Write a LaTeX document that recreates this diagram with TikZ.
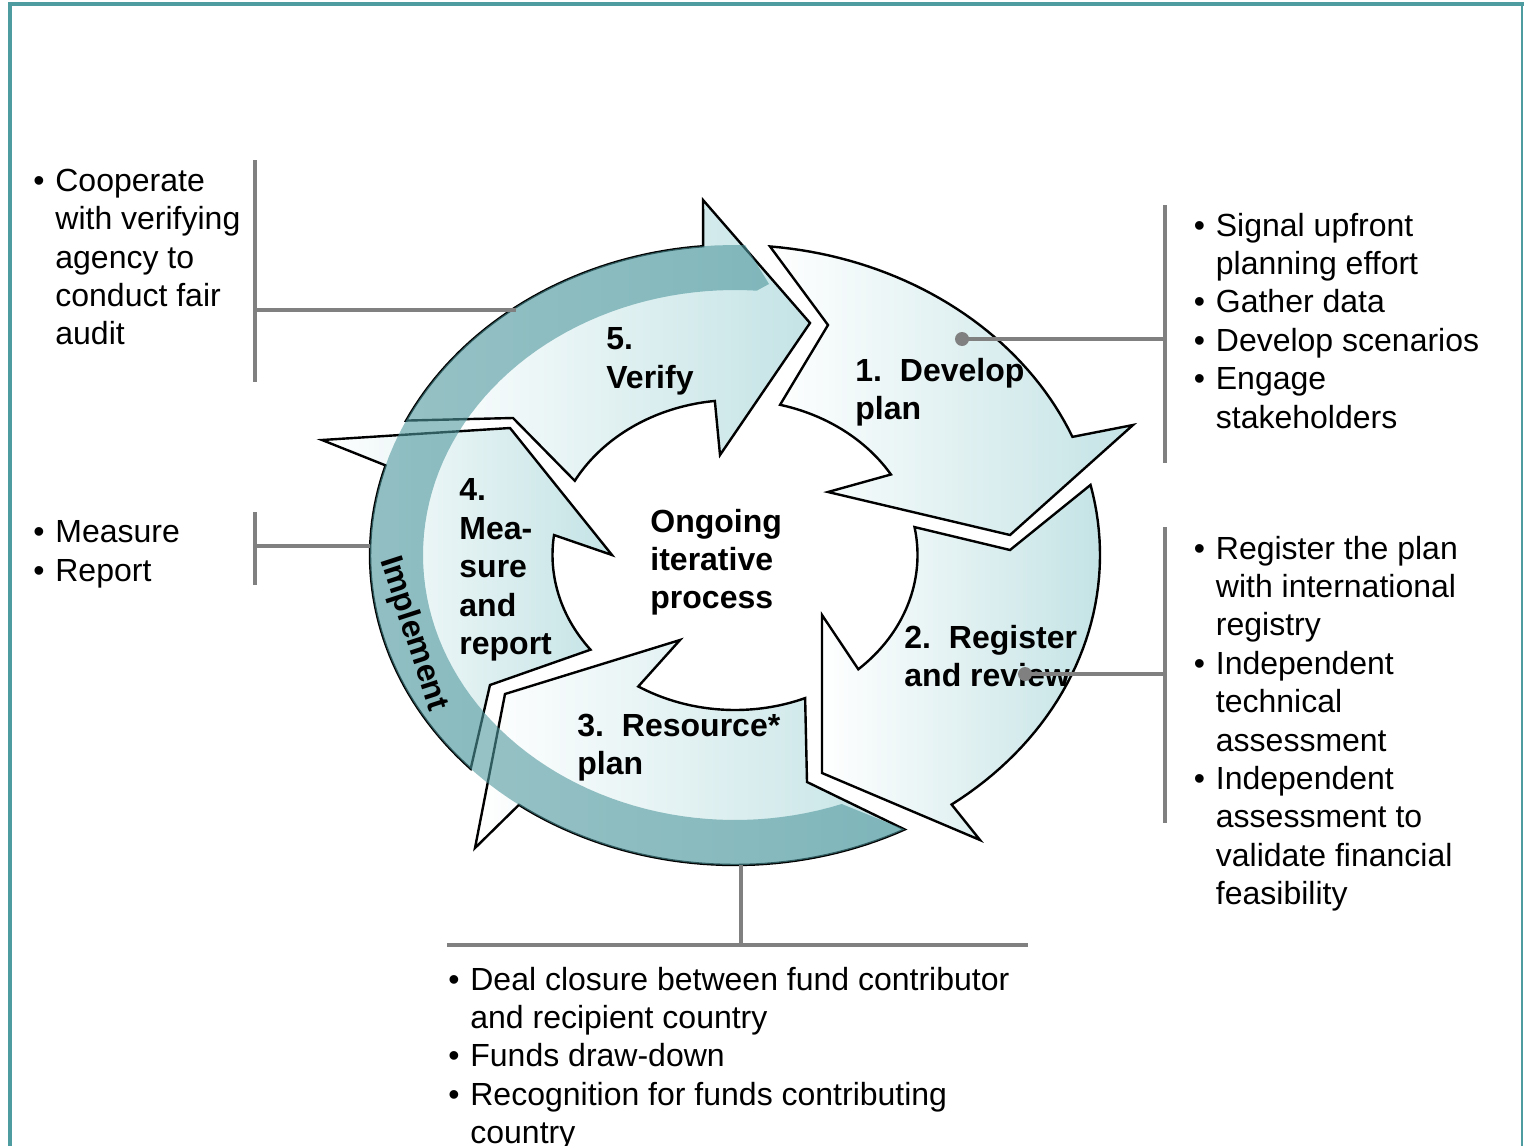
\documentclass[tikz,border=0pt]{standalone}
\usepackage{fontspec}
\setmainfont{Liberation Sans}
\definecolor{frameteal}{RGB}{78,155,160}
\definecolor{linegrey}{RGB}{128,128,128}
\definecolor{arrowteal}{RGB}{196,227,229}
\definecolor{bandteal}{RGB}{80,152,158}
\tikzset{
  cyclearrow/.style={draw=black, line width=1.2pt, line join=miter, left color=white, right color=arrowteal},
  bandshape/.style={fill=bandteal, fill opacity=0.6},
  callout/.style={draw=linegrey, line width=2pt},
  calloutdot/.style={fill=linegrey},
  bullettext/.style={anchor=north west, inner sep=0pt, align=left, font=\fontsize{16}{19.2}\selectfont},
  steplabel/.style={anchor=north west, inner sep=0pt, align=left, font=\fontsize{16}{19.2}\selectfont\bfseries},
}
\newcommand{\bul}{\makebox[11pt][l]{\textbullet}}
\newcommand{\ind}{\hspace*{11pt}}
\begin{document}
\begin{tikzpicture}[x=0.5pt,y=-0.5pt]
\useasboundingbox (0,0) rectangle (1524,1145);
% frame
\draw[frameteal, line width=2pt] (9.5,1150) -- (9.5,4.5) -- (1526,4.5);
\draw[frameteal, line width=0.8pt] (1522,4.5) -- (1522,1150);

% 1. Develop plan
\draw[cyclearrow] (828,325)
  -- plot[domain=-84.5:-22.4,samples=40] ({735+365*cos(\x)},{555+310*sin(\x)})
  -- (1133,425) -- (1010,535) -- (828,492)
  -- plot[domain=-31.3:-75.7,samples=40] ({735+182.5*cos(\x)},{555+155*sin(\x)})
  -- cycle;
% 2. Register and review
\draw[cyclearrow] (1010,550)
  -- plot[domain=-13.07:53.6,samples=40] ({735+365*cos(\x)},{555+310*sin(\x)})
  -- (980,840) -- (822,773) -- (822,615)
  -- plot[domain=47.5:-10.38,samples=40] ({735+182.5*cos(\x)},{555+155*sin(\x)})
  -- cycle;
% 3. Resource plan
\draw[cyclearrow] (807,782)
  -- plot[domain=62.3:126.3,samples=40] ({735+365*cos(\x)},{555+310*sin(\x)})
  -- (475,848) -- (505,694) -- (680,640)
  -- plot[domain=122.0:67.4,samples=40] ({735+182.5*cos(\x)},{555+155*sin(\x)})
  -- cycle;
% 4. Measure and report
\draw[cyclearrow] (490,685)
  -- plot[domain=136.4:196.8,samples=40] ({735+365*cos(\x)},{555+310*sin(\x)})
  -- (322,440) -- (510,428) -- (612,555)
  -- plot[domain=187.4:142.35,samples=40] ({735+182.5*cos(\x)},{555+155*sin(\x)})
  -- cycle;
% 5. Verify
\draw[cyclearrow] (513,418)
  -- plot[domain=205.7:265,samples=40] ({735+365*cos(\x)},{555+310*sin(\x)})
  -- (703,200) -- (810,323) -- (720,455)
  -- plot[domain=263.66:208.6,samples=40] ({735+182.5*cos(\x)},{555+155*sin(\x)})
  -- cycle;

% Implement band
\path[bandshape]
  plot[domain=62.3:271.6,samples=90] ({735+365*cos(\x)},{555+310*sin(\x)})
  -- (769,284)
  -- plot[domain=274:70,samples=90] ({735+312*cos(\x)},{555+265*sin(\x)})
  -- cycle;
\node[rotate=-72, font=\fontsize{16}{19.2}\selectfont\bfseries, inner sep=0pt] (impl) at (413,634) {Implement};

% step labels
\node[steplabel] (verify) at (606,327.5) {5.\\Verify};
\node[steplabel] (develop) at (855,357.5) {1.\hspace{0.56em}Develop\\plan};
\node[steplabel] (register) at (904,624.5) {2.\hspace{0.56em}Register\\and review};
\node[steplabel] (resource) at (577,713.5) {3.\hspace{0.56em}Resource*\\plan};
\node[steplabel] (measure) at (459,478.5) {4.\\Mea-\\sure\\and\\report};
\node[steplabel] (ongoing) at (650,508.5) {Ongoing\\iterative\\process};

% bullet texts
\node[bullettext] (lefttop) at (33,168.5) {\bul Cooperate\\\ind with verifying\\\ind agency to\\\ind conduct fair\\\ind audit};
\node[bullettext] (leftmid) at (33,520.5) {\bul Measure\\\bul Report};
\node[bullettext] (righttop) at (1193.5,212.5) {\bul Signal upfront\\\ind planning effort\\\bul Gather data\\\bul Develop scenarios\\\bul Engage\\\ind stakeholders};
\node[bullettext] (rightbot) at (1193.5,535.5) {\bul Register the plan\\\ind with international\\\ind registry\\\bul Independent\\\ind technical\\\ind assessment\\\bul Independent\\\ind assessment to\\\ind validate financial\\\ind feasibility};
\node[bullettext] (bottom) at (448,966.5) {\bul Deal closure between fund contributor\\\ind and recipient country\\\bul Funds draw-down\\\bul Recognition for funds contributing\\\ind country};

% callout coordinates
\coordinate (lt1) at (255,160);
\coordinate (lt2) at (255,382);
\coordinate (ltm) at (255,310);
\coordinate (lte) at (516,310);
\coordinate (lm1) at (255,512);
\coordinate (lm2) at (255,585);
\coordinate (lmm) at (255,546);
\coordinate (lme) at (370,546);
\coordinate (rt1) at (1165,205);
\coordinate (rt2) at (1165,463);
\coordinate (rtm) at (1165,339);
\coordinate (dotone) at (962,339);
\coordinate (rb1) at (1165,527);
\coordinate (rb2) at (1165,823);
\coordinate (rbm) at (1165,674);
\coordinate (dottwo) at (1025,674);
\coordinate (bt1) at (447,945);
\coordinate (bt2) at (1028,945);
\coordinate (btm) at (741,945);
\coordinate (bte) at (741,865);

\draw[callout] (lt1) -- (lt2);
\draw[callout] (ltm) -- (lte);
\draw[callout] (lm1) -- (lm2);
\draw[callout] (lmm) -- (lme);
\draw[callout] (rt1) -- (rt2);
\draw[callout] (rtm) -- (dotone);
\fill[calloutdot] (dotone) circle (7);
\draw[callout] (rb1) -- (rb2);
\draw[callout] (rbm) -- (dottwo);
\fill[calloutdot] (dottwo) circle (7);
\draw[callout] (bt1) -- (bt2);
\draw[callout] (btm) -- (bte);
\end{tikzpicture}
\end{document}
